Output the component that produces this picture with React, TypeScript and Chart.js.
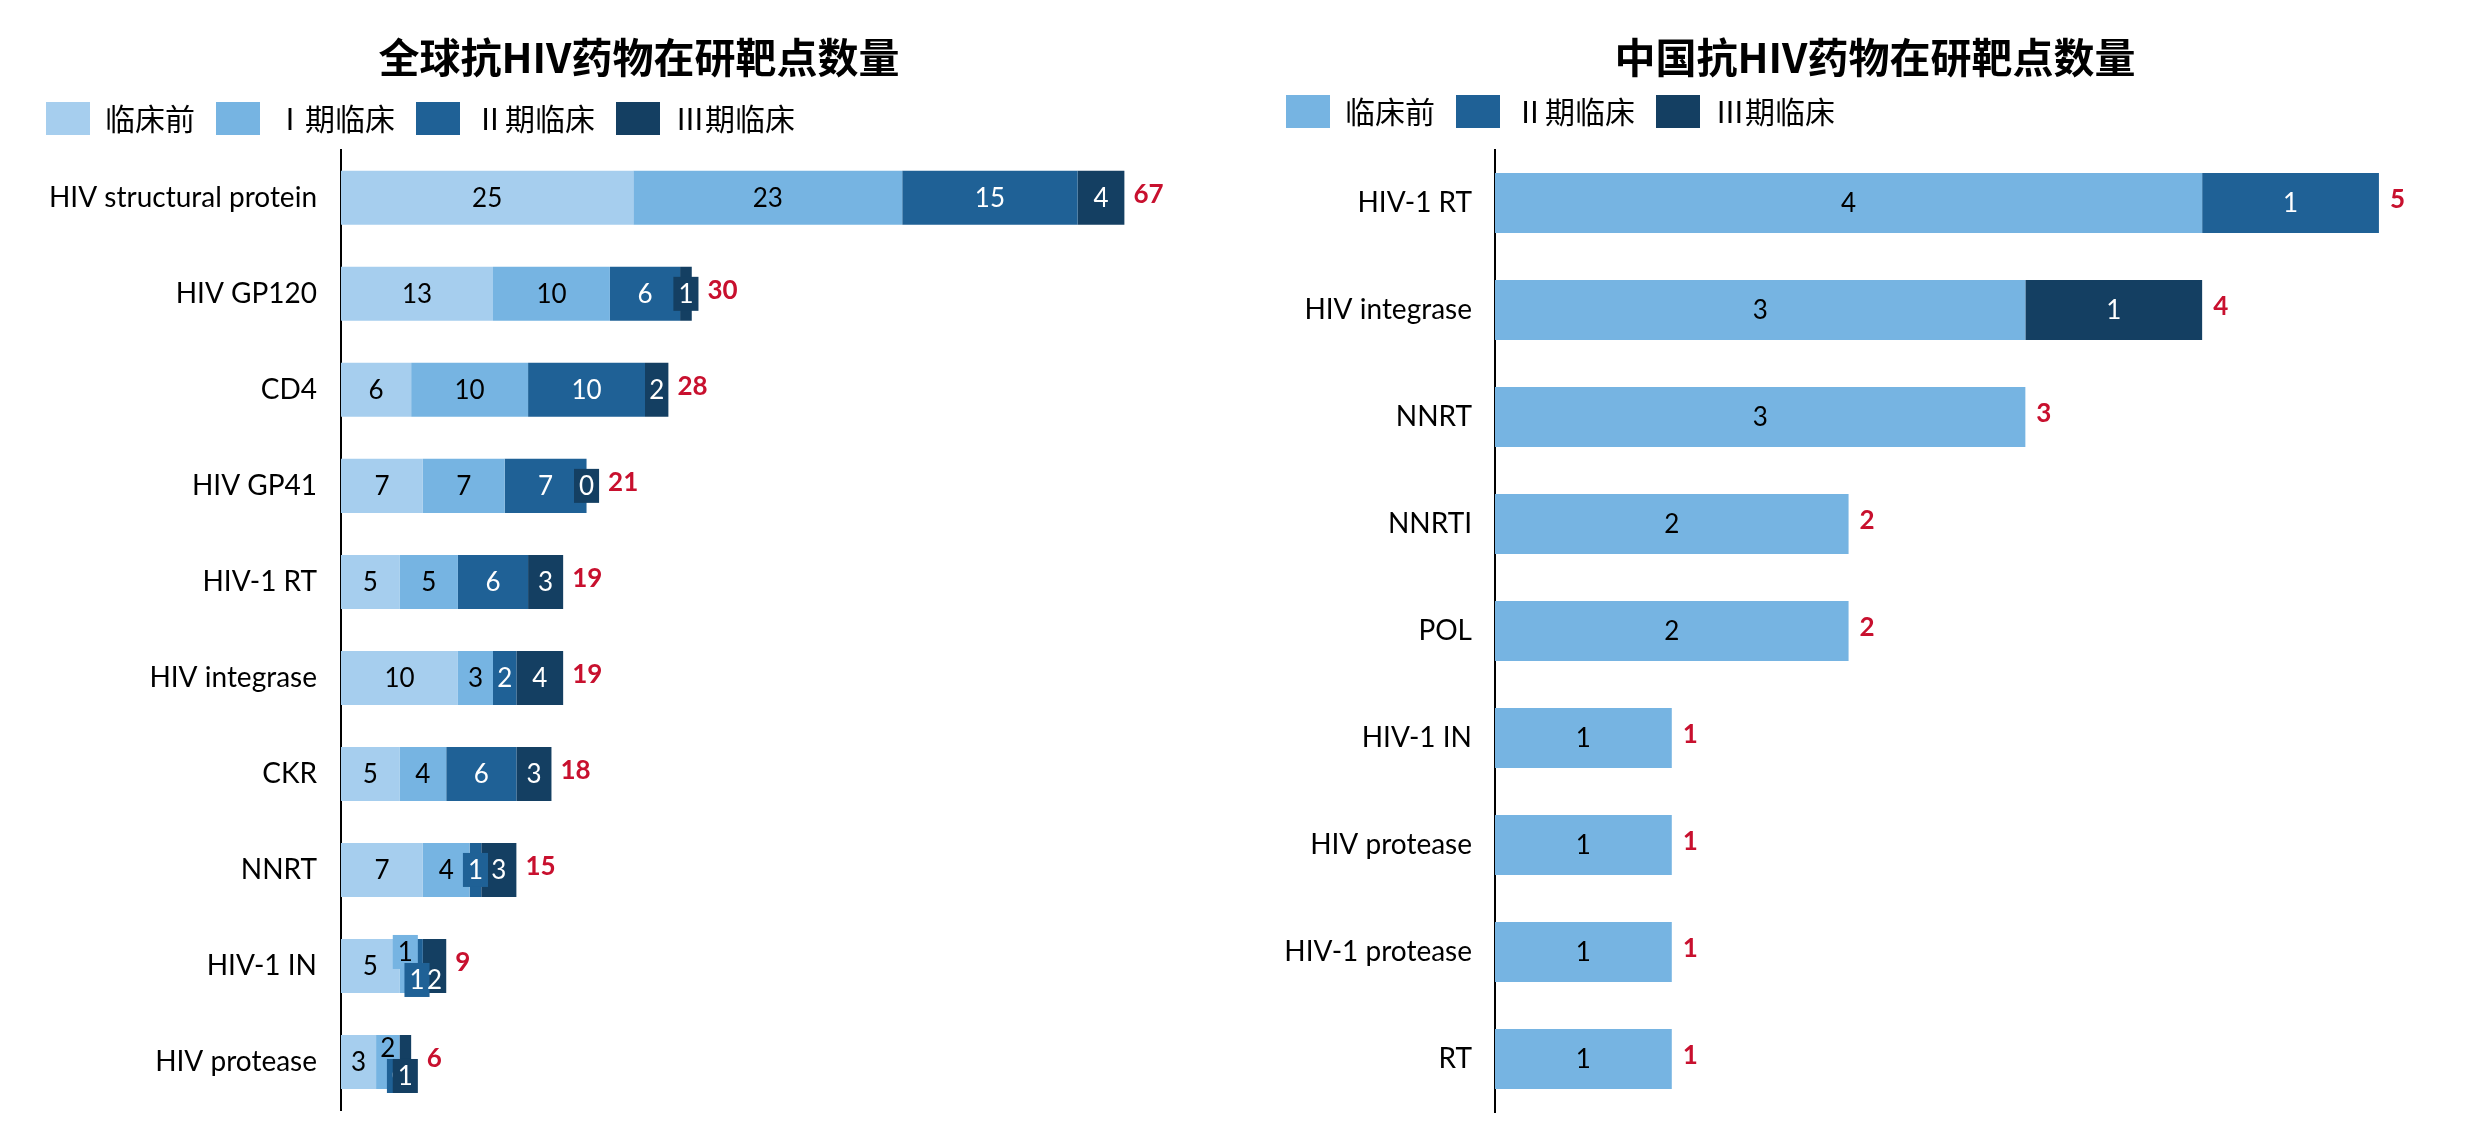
import React, { useEffect, useRef } from 'react';
import { Chart, registerables } from 'chart.js';

Chart.register(...registerables);

// ---------- data ----------
const globalTitle = '全球抗HIV药物在研靶点数量';
const globalCategories = [
  'HIV structural protein', 'HIV GP120', 'CD4', 'HIV GP41', 'HIV-1 RT',
  'HIV integrase', 'CKR', 'NNRT', 'HIV-1 IN', 'HIV protease',
];
const globalPreclinical = [25, 13, 6, 7, 5, 10, 5, 7, 5, 3];
const globalPhase1 = [23, 10, 10, 7, 5, 3, 4, 4, 1, 2];
const globalPhase2 = [15, 6, 10, 7, 6, 2, 6, 1, 1, 0];
const globalPhase3 = [4, 1, 2, 0, 3, 4, 3, 3, 2, 1];

const chinaTitle = '中国抗HIV药物在研靶点数量';
const chinaCategories = [
  'HIV-1 RT', 'HIV integrase', 'NNRT', 'NNRTI', 'POL',
  'HIV-1 IN', 'HIV protease', 'HIV-1 protease', 'RT',
];
const chinaPreclinical = [4, 3, 3, 2, 2, 1, 1, 1, 1];
const chinaPhase2 = [1, null, null, null, null, null, null, null, null];
const chinaPhase3 = [null, 1, null, null, null, null, null, null, null];

const seriesNames = ['临床前', 'Ⅰ期临床', 'Ⅱ期临床', 'Ⅲ期临床'];

// ---------- styles ----------
const C_PRE = '#A6CEEE';
const C_P1 = '#76B4E2';
const C_P2 = '#1F6196';
const C_P3 = '#143F62';
const C_TOTAL = '#C8102E';
const CJK = '"Noto Sans CJK SC", "Noto Sans", sans-serif';
const LAT = 'Lato, "Noto Sans", sans-serif';

// ---------- label plugin ----------
const barLabelPlugin = {
  id: 'barLabels',
  afterDatasetsDraw(chart: any, _args: any, opts: any) {
    const ctx = chart.ctx;
    const n = chart.data.labels.length;
    ctx.save();
    ctx.textAlign = 'center';
    ctx.textBaseline = 'middle';
    for (let i = 0; i < n; i++) {
      const items: any[] = [];
      let barEnd = -Infinity;
      let cy = 0;
      let total = 0;
      chart.data.datasets.forEach((ds: any, d: number) => {
        const v = ds.data[i];
        const meta = chart.getDatasetMeta(d);
        const el: any = meta.data[i];
        if (v === null || v === undefined || !el) return;
        total += v;
        const x0 = Math.min(el.base, el.x);
        const x1 = Math.max(el.base, el.x);
        cy = el.y;
        barEnd = Math.max(barEnd, x1);
        const text = String(v);
        ctx.font = `${opts.size}px ${LAT}`;
        const tw = ctx.measureText(text).width;
        const cx = (x0 + x1) / 2;
        const boxed = tw + 4 > x1 - x0;
        const bw = boxed ? tw + 10 : tw;
        items.push({
          text, cx, cy: el.y, boxed, bw,
          left: cx - bw / 2, right: cx + bw / 2,
          color: ds.backgroundColor, textColor: opts.textColors[d], shift: 0,
        });
      });
      if (!items.length) continue;
      for (let k = 1; k < items.length; k++) {
        const a = items[k - 1];
        const b = items[k];
        if (b.left < a.right) {
          if (a.shift === 0) {
            a.shift = -opts.shift;
            b.shift = opts.shift;
          } else {
            b.shift = a.shift;
          }
        }
      }
      let rightMost = barEnd;
      items.forEach((it) => {
        const y = it.cy + it.shift;
        if (it.boxed) {
          ctx.fillStyle = it.color;
          ctx.fillRect(it.cx - it.bw / 2, y - opts.boxH / 2, it.bw, opts.boxH);
        }
        rightMost = Math.max(rightMost, it.right);
        ctx.font = `${opts.size}px ${LAT}`;
        ctx.fillStyle = it.textColor;
        ctx.fillText(it.text, it.cx, y + 1);
      });
      ctx.font = `bold ${opts.size}px ${LAT}`;
      ctx.fillStyle = C_TOTAL;
      ctx.textAlign = 'left';
      ctx.fillText(String(total), rightMost + opts.gap, cy + opts.totalDy);
      ctx.textAlign = 'center';
    }
    ctx.restore();
  },
};

function makeConfig(p: any) {
  return {
    type: 'bar',
    data: {
      labels: p.categories,
      datasets: p.series.map((s: any) => ({
        label: s.name,
        data: s.data,
        backgroundColor: s.color,
        borderWidth: 0,
        barPercentage: 0.5625,
        categoryPercentage: 1,
      })),
    },
    plugins: [barLabelPlugin],
    options: {
      indexAxis: 'y',
      responsive: false,
      animation: false,
      layout: { padding: { left: 25, top: 0, right: 0, bottom: p.padBottom } },
      scales: {
        x: {
          type: 'linear',
          position: 'top',
          stacked: true,
          min: 0,
          max: p.xMax,
          grid: { display: false, drawTicks: false },
          border: { display: false },
          ticks: { display: false },
          afterFit: (s: any) => {
            s.height = p.topGap;
            s.paddingLeft = 0; s.paddingRight = 0; s.paddingTop = 0; s.paddingBottom = 0;
          },
        },
        y: {
          type: 'category',
          stacked: true,
          grid: { display: false, drawTicks: false },
          border: { display: true, color: '#000', width: 2 },
          ticks: {
            color: '#000',
            autoSkip: false,
            padding: p.tickPad,
            font: { family: LAT, size: 28 },
          },
          afterFit: (s: any) => {
            s.width = p.axisWidth;
            s.paddingLeft = 0; s.paddingRight = 0; s.paddingTop = 0; s.paddingBottom = 0;
          },
        },
      },
      plugins: {
        title: {
          display: true,
          text: p.title,
          color: '#000',
          font: { family: CJK, size: 41, weight: 'bold', lineHeight: 0.8 },
          padding: { top: p.titleTop, bottom: p.titleBottom },
        },
        legend: {
          display: true,
          position: 'top',
          align: 'start',
          labels: {
            boxWidth: 44,
            boxHeight: 33,
            padding: 21,
            color: '#000',
            font: { family: CJK, size: 30 },
          },
        },
        tooltip: { enabled: false },
        barLabels: {
          size: 26,
          boxH: 34,
          shift: 14,
          gap: p.totalGap,
          totalDy: -3,
          textColors: p.textColors,
        },
      },
    },
  };
}

function BarChart({ params, left, width }: any) {
  const ref = useRef<HTMLCanvasElement>(null);
  useEffect(() => {
    const chart = new Chart(ref.current as any, makeConfig(params) as any);
    return () => chart.destroy();
  }, []);
  return (
    <canvas
      ref={ref}
      width={width}
      height={1134}
      style={{ position: 'absolute', left, top: 0, width, height: 1134, display: 'block' }}
    />
  );
}

const globalParams = {
  title: globalTitle,
  categories: globalCategories,
  series: [
    { name: seriesNames[0], data: globalPreclinical, color: C_PRE },
    { name: seriesNames[1], data: globalPhase1, color: C_P1 },
    { name: seriesNames[2], data: globalPhase2, color: C_P2 },
    { name: seriesNames[3], data: globalPhase3, color: C_P3 },
  ],
  textColors: ['#000', '#000', '#fff', '#fff'],
  xMax: 78,
  padBottom: 24,
  topGap: 4.8,
  axisWidth: 316,
  tickPad: 24,
  titleTop: 40.6,
  titleBottom: 7.6,
  totalGap: 9,
};

const chinaParams = {
  title: chinaTitle,
  categories: chinaCategories,
  series: [
    { name: seriesNames[0], data: chinaPreclinical, color: C_P1 },
    { name: seriesNames[2], data: chinaPhase2, color: C_P2 },
    { name: seriesNames[3], data: chinaPhase3, color: C_P3 },
  ],
  textColors: ['#000', '#fff', '#fff'],
  xMax: 5.6,
  padBottom: 21.5,
  topGap: 11.6,
  axisWidth: 230,
  tickPad: 23,
  titleTop: 41.1,
  titleBottom: 0,
  totalGap: 11,
};

export default function App() {
  return (
    <div
      style={{
        position: 'absolute', left: 0, top: 0, width: 2467, height: 1134,
        overflow: 'hidden', background: '#fff',
      }}
    >
      <BarChart params={globalParams} left={0} width={1253} />
      <BarChart params={chinaParams} left={1240} width={1245} />
    </div>
  );
}
